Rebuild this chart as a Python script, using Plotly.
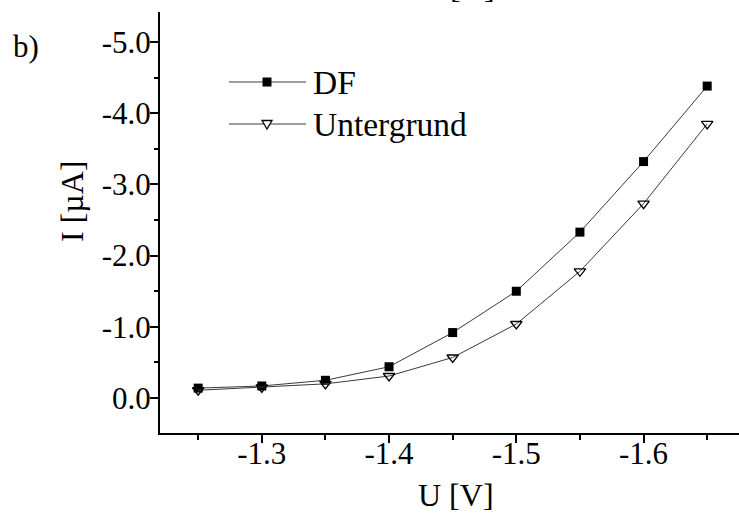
import plotly.graph_objects as go

# Measured current vs. applied potential
voltage = [-1.25, -1.30, -1.35, -1.40, -1.45, -1.50, -1.55, -1.60, -1.65]
current_df = [-0.14, -0.17, -0.25, -0.44, -0.92, -1.50, -2.33, -3.32, -4.38]
current_bg = [-0.11, -0.15, -0.20, -0.31, -0.57, -1.04, -1.78, -2.73, -3.85]

series_names = ["DF", "Untergrund"]

x_tickvals = [-1.3, -1.4, -1.5, -1.6]
x_ticktext = ["-1.3", "-1.4", "-1.5", "-1.6"]
y_tickvals = [0, -1, -2, -3, -4, -5]
y_ticktext = ["0.0", "-1.0", "-2.0", "-3.0", "-4.0", "-5.0"]

FONT = "Liberation Serif"
W, H = 739, 517
ML, MR, MT, MB = 160, 0, 12, 84
PW, PH = W - ML - MR, H - MT - MB


def px(x):
    return (x - ML) / PW


def py(y):
    return (H - MB - y) / PH


fig = go.Figure()
fig.add_trace(go.Scatter(
    x=voltage, y=current_df, mode="lines+markers", name=series_names[0],
    line=dict(color="#3a3a3a", width=1),
    marker=dict(symbol="square", size=9, color="black"),
    showlegend=False, cliponaxis=False,
))
fig.add_trace(go.Scatter(
    x=voltage, y=current_bg, mode="lines+markers", name=series_names[1],
    line=dict(color="#3a3a3a", width=1),
    marker=dict(symbol="triangle-down-open", size=10, color="black",
                line=dict(width=1.3)),
    showlegend=False, cliponaxis=False,
))

axis_common = dict(
    showgrid=False, zeroline=False, showline=True, linecolor="black",
    linewidth=2, ticks="outside", ticklen=8, tickwidth=1.5, tickcolor="black",
    tickfont=dict(family=FONT, size=31, color="black"),
)

fig.update_xaxes(
    range=[-1.22, -1.675], tickmode="array", tickvals=x_tickvals,
    ticktext=x_ticktext, ticklabelstandoff=-16,
    minor=dict(tickmode="linear", tick0=-1.25, dtick=0.05, ticks="outside",
               ticklen=5, tickwidth=1.5, tickcolor="black"),
    **axis_common,
)
fig.update_yaxes(
    range=[0.49, -5.42], tickmode="array", tickvals=y_tickvals,
    ticktext=y_ticktext, ticklabelstandoff=-7,
    minor=dict(tickmode="linear", tick0=-0.5, dtick=0.5, ticks="outside",
               ticklen=4, tickwidth=1.5, tickcolor="black"),
    **axis_common,
)

# Legend drawn by hand: long sample lines with centred marker
legend_rows = [(82, series_names[0], "square"), (124, series_names[1], "tri")]
shapes = []
annotations = []
for ly, label, kind in legend_rows:
    shapes.append(dict(type="line", xref="paper", yref="paper",
                       x0=px(229), x1=px(306), y0=py(ly), y1=py(ly),
                       line=dict(color="#3a3a3a", width=1)))
    if kind == "square":
        shapes.append(dict(type="rect", xref="paper", yref="paper",
                           xsizemode="pixel", ysizemode="pixel",
                           xanchor=px(267), yanchor=py(ly),
                           x0=-4.5, x1=4.5, y0=-4.5, y1=4.5,
                           fillcolor="black", line=dict(width=0)))
    else:
        shapes.append(dict(type="path", xref="paper", yref="paper",
                           xsizemode="pixel", ysizemode="pixel",
                           xanchor=px(267), yanchor=py(ly),
                           path="M-5,3.5 L5,3.5 L0,-5 Z",
                           fillcolor="white",
                           line=dict(color="black", width=1.3)))
    annotations.append(dict(text=label, xref="paper", yref="paper",
                            x=px(311), y=py(ly), xanchor="left",
                            yanchor="middle", showarrow=False,
                            font=dict(family=FONT, size=33.5, color="black")))

annotations += [
    dict(text="b)", xref="paper", yref="paper", x=px(11), y=py(46),
         xanchor="left", yanchor="middle", showarrow=False,
         font=dict(family=FONT, size=31, color="black")),
    dict(text="I [µA]", xref="paper", yref="paper", x=px(72), y=py(201),
         xanchor="center", yanchor="middle", textangle=-90, showarrow=False,
         font=dict(family=FONT, size=32, color="black")),
    dict(text="U [V]", xref="paper", yref="paper", x=px(456), y=py(495),
         xanchor="center", yanchor="middle", showarrow=False,
         font=dict(family=FONT, size=32, color="black")),
    # axis title of the panel above, cut by the top edge
    dict(text="U [V]", xref="paper", yref="paper", x=px(457), y=py(7),
         xanchor="center", yanchor="bottom", showarrow=False,
         font=dict(family=FONT, size=32, color="black")),
]

fig.update_layout(
    width=W, height=H,
    margin=dict(l=ML, r=MR, t=MT, b=MB, pad=0),
    paper_bgcolor="white", plot_bgcolor="white",
    shapes=shapes, annotations=annotations,
    showlegend=False,
)

fig.write_html("out.html")
